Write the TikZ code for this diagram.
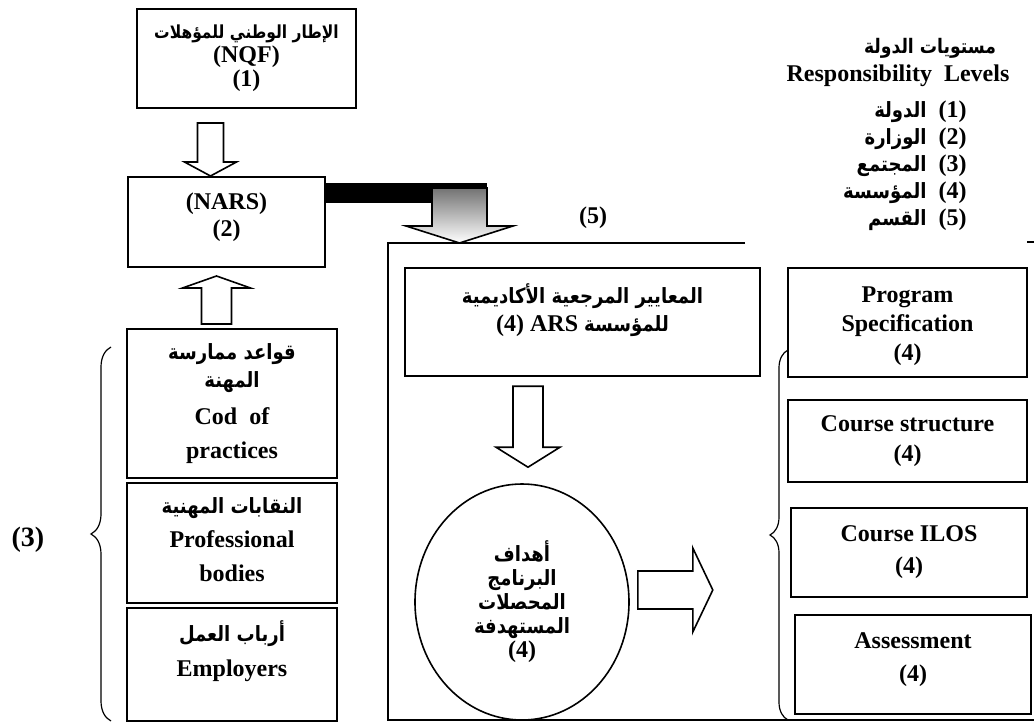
\documentclass[tikz,border=0pt]{standalone}
\usepackage{fontspec}
\setmainfont{Liberation Serif}
\newfontfamily\arabicfont[Script=Arabic, FakeStretch=0.86]{DejaVu Sans}
\TeXXeTstate=1
\usetikzlibrary{shapes.geometric, positioning, calc, decorations.pathreplacing}
\newcommand{\artxt}[2][10.5]{\mbox{\arabicfont\fontsize{#1}{12}\selectfont\beginR #2\endR}}
\newcommand{\lift}[1]{\rule{0pt}{#1}}
\newcommand{\sink}[1]{\rule[-#1]{0pt}{0pt}}

\begin{document}
\begin{tikzpicture}[
    x=0.5pt, y=-0.5pt,
    box/.style={rectangle, draw, line width=1pt, inner sep=0pt, align=center,
                font=\bfseries\fontsize{12}{17}\selectfont},
    goal/.style={ellipse, draw, line width=0.8pt, inner sep=0pt, align=center,
                 minimum width=107pt, minimum height=118pt, font=\bfseries\fontsize{12}{12}\selectfont},
    hollow/.style={draw, line width=0.8pt, fill=white, line join=miter},
    shadearrow/.style={draw, line width=0.8pt, top color=black!55, bottom color=white},
    brace/.style={decorate, decoration={brace, amplitude=10pt}, line width=0.6pt},
    txt/.style={font=\bfseries\fontsize{12}{15}\selectfont, align=center, inner sep=0pt}
]
\useasboundingbox (0,0) rectangle (1034,722);

% Levels 1 and 2
\node[box, minimum width=109.5pt, minimum height=49.5pt, font=\bfseries\fontsize{12}{12}\selectfont] (nqf)
    at (246.5,58.5) {\artxt[9]{الإطار الوطني للمؤهلات}\\(NQF)\\(1)};
\node[box, minimum width=98.5pt, minimum height=45pt, font=\bfseries\fontsize{12}{13.5}\selectfont] (nars)
    at (226.5,222) {(NARS)\\(2)\sink{7.8pt}};

% Level 3: the community
\node[box, minimum width=105pt, minimum height=74.5pt] (code) at (232,403.5)
    {\artxt{قواعد ممارسة}\\[-3pt]\artxt{المهنة}\\[1.5pt]Cod\ \ of\\practices};
\node[box, minimum width=105pt, minimum height=60pt] (prof) at (232,543)
    {\artxt{النقابات المهنية}\\Professional\\bodies\sink{3.5pt}};
\node[box, minimum width=105pt, minimum height=56.5pt, font=\bfseries\fontsize{12}{17.5}\selectfont] (employ)
    at (232,664.5) {\artxt{أرباب العمل}\\Employers\sink{15.6pt}};
\draw[brace] ($(employ.south west)+(-15,-1)$) -- ($(code.north west)+(-15,19)$);
\node[txt, font=\bfseries\fontsize{14}{15}\selectfont] (lvl3) at (28,540) {(3)};

% hollow arrows between the levels
\coordinate (a1) at ($(nars.north)+(-16,0)$);
\draw[hollow] (a1) -- ++(-26,-14) -- ++(13,0) -- ++(0,-39) -- ++(26,0) -- ++(0,39) -- ++(13,0) -- cycle;
\coordinate (a2) at ($(nars.south)+(-10,8)$);
\draw[hollow] (a2) -- ++(-34,12) -- ++(19,0) -- ++(0,36) -- ++(30,0) -- ++(0,-36) -- ++(19,0) -- cycle;

% NARS down to the institution
\fill (nars.east |- 0,183) rectangle (487,203);
\coordinate (a3) at (459.5,243);
\draw[shadearrow] (a3) -- ++(-53.5,-17) -- ++(26,0) -- ++(0,-38) -- ++(55,0) -- ++(0,38) -- ++(26,0) -- cycle;
\node[txt] (lvl5) at (593,218) {(5)};

% Institution frame
\draw[line width=1pt] (745,243) -- (388,243) -- (388,720) -- (1034,720);
\draw[line width=1pt] (1027,242) -- (1034,242);

\node[box, minimum width=177.5pt, minimum height=54pt, font=\bfseries\fontsize{12}{14}\selectfont] (ars)
    at (582.5,322) {\artxt{المعايير المرجعية الأكاديمية}\\(4) ARS \artxt{للمؤسسة}\sink{14.5pt}};
\node[goal] (goals) at (522,602)
    {\artxt{أهداف}\\\artxt{البرنامج}\\\artxt{المحصلات}\\\artxt{المستهدفة}\\(4)};
\coordinate (a4) at ($(goals.north)+(6,-16)$);
\draw[hollow] (a4) -- ++(-32,-20) -- ++(17,0) -- ++(0,-61) -- ++(30,0) -- ++(0,61) -- ++(17,0) -- cycle;
\coordinate (a5) at ($(goals.east)+(83,-12)$);
\draw[hollow] (a5) -- ++(-20,-42) -- ++(0,23) -- ++(-55,0) -- ++(0,38) -- ++(55,0) -- ++(0,23) -- cycle;

% Level 4: program documents
\node[box, minimum width=119.5pt, minimum height=54.5pt, font=\bfseries\fontsize{12}{14.5}\selectfont] (prog)
    at (907.5,322.5) {\lift{11.6pt}Program\\Specification\\(4)};
\node[box, minimum width=119.5pt, minimum height=41pt, font=\bfseries\fontsize{12}{15}\selectfont] (struct)
    at (907.5,441) {Course structure\\(4)};
\node[box, minimum width=118pt, minimum height=44.5pt, font=\bfseries\fontsize{12}{16}\selectfont] (ilos)
    at (909,552.5) {Course ILOS\\(4)};
\node[box, minimum width=118pt, minimum height=49.5pt, font=\bfseries\fontsize{12}{16.5}\selectfont] (assess)
    at (913,664.5) {Assessment\\(4)\sink{7.7pt}};
\draw[brace, decoration={amplitude=9pt}] (788,720) -- (788,350);

% Responsibility levels
\node[txt] (legtitle) at (930,48) {\artxt[10]{مستويات الدولة}};
\node[txt] (legsub) at (898,76) {Responsibility\ \ Levels};
\node[txt, align=right, anchor=north east, font=\bfseries\fontsize{12}{13.5}\selectfont] (leglist) at (967,100)
    {\artxt{الدولة}\ \ (1)\\\artxt{الوزارة}\ \ (2)\\\artxt{المجتمع}\ \ (3)\\\artxt{المؤسسة}\ \ (4)\\\artxt{القسم}\ \ (5)};

\end{tikzpicture}
\end{document}
